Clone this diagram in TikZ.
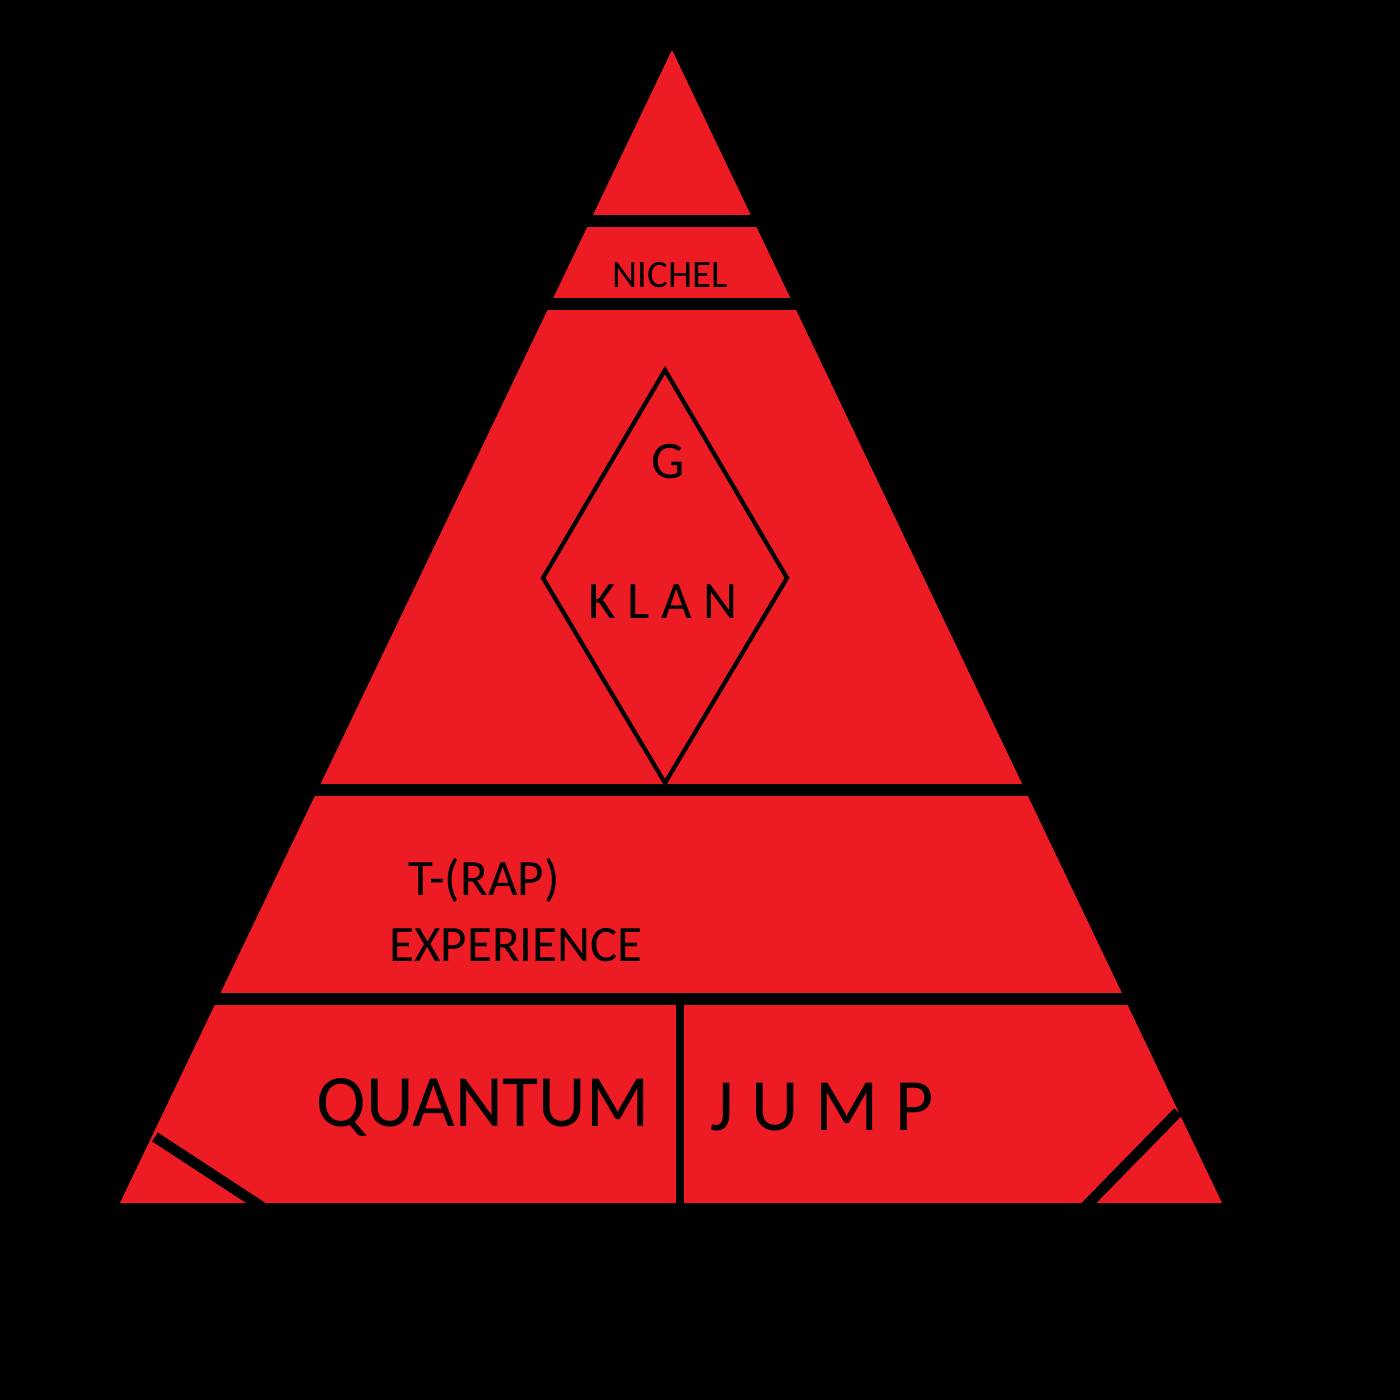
\documentclass[tikz,border=0pt]{standalone}
\usepackage{fontspec}
\setmainfont{Carlito}
\definecolor{pyrred}{HTML}{ED1C24}
\tikzset{
    cut/.style = {black, line width=3.4pt},
    label/.style = {inner sep=0pt, text=black},
}
\begin{document}
\begin{tikzpicture}[x=0.01cm, y=-0.01cm]
    \fill[black] (0,0) rectangle (1400,1400);
    % pyramid
    \fill[pyrred] (672,50) -- (1222,1203) -- (120,1203) -- cycle;
    % cuts between the bands
    \draw[cut] (560,221) -- (790,221);
    \draw[cut] (520,304) -- (830,304);
    \draw[cut] (300,790) -- (1040,790);
    \draw[cut] (200,999) -- (1140,999);
    \draw[black, line width=2.4pt] (680,1003) -- (680,1210);
    \draw[black, line width=3pt] (155,1137) -- (262,1207);
    \draw[black, line width=3pt] (1178,1112) -- (1085,1207);
    % diamond
    \draw[black, line width=1.2pt] (665,370) -- (787,578) -- (665,783) -- (543,578) -- cycle;
    % texts
    \node[label, font=\fontsize{11}{13}\selectfont] (nichel) at (670,275) {NICHEL};
    \node[label, font=\fontsize{15}{18}\selectfont] (g) at (668,462) {G};
    \node[label, font=\fontsize{15}{18}\selectfont] (klan) at (663,602) {K L A N};
    \node[label, font=\fontsize{14.5}{18}\selectfont] (trap) at (484,880) {T-(RAP)};
    \node[label, font=\fontsize{14.5}{18}\selectfont] (exp) at (516,945) {EXPERIENCE};
    \node[label, font=\fontsize{21}{25}\selectfont] (quantum) at (483,1107) {QUANTUM};
    \node[label, font=\fontsize{21}{25}\selectfont] (jump) at (822,1107) {J U M P};
\end{tikzpicture}
\end{document}
